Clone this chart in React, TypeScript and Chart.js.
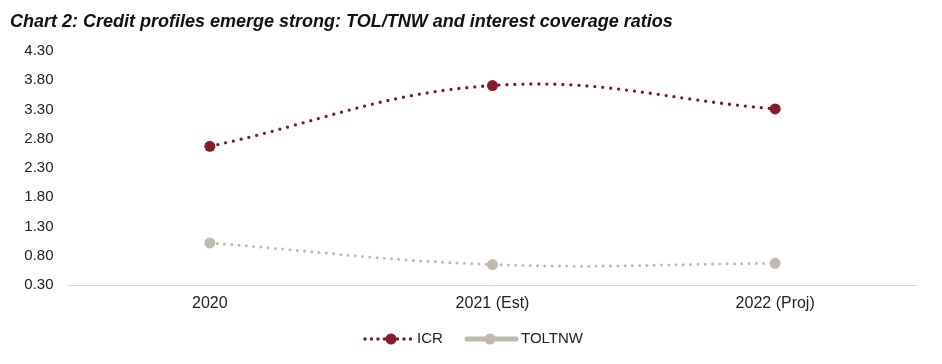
import React, { useEffect, useRef } from "react";
import { Chart, registerables } from "chart.js";

Chart.register(...registerables);

const TITLE = "Chart 2: Credit profiles emerge strong: TOL/TNW and interest coverage ratios";
const CATEGORIES = ["2020", "2021 (Est)", "2022 (Proj)"];
const ICR = [2.67, 3.71, 3.31];
const TOLTNW = [1.02, 0.65, 0.67];
const SERIES_NAMES = ["ICR", "TOLTNW"];
const Y_MIN = 0.3;
const Y_MAX = 4.3;
const Y_STEP = 0.5;

const ICR_COLOR = "#731D2A";
const ICR_POINT = "#861B2B";
const TOL_COLOR = "#C0B9AF";
const FONT = "'Liberation Sans', Arial, sans-serif";

const titlePlugin = {
  id: "customTitle",
  afterDraw(chart: any) {
    const ctx = chart.ctx;
    ctx.save();
    ctx.font = `italic bold 18px ${FONT}`;
    ctx.fillStyle = "#111111";
    ctx.textBaseline = "alphabetic";
    ctx.textAlign = "left";
    ctx.fillText(TITLE, 10, 27);
    ctx.restore();
  },
};

const legendPlugin = {
  id: "customLegend",
  afterDraw(chart: any) {
    const ctx = chart.ctx;
    const cx = chart.width / 2;
    const y = 339;
    ctx.save();
    // ICR icon: dotted line with marker
    ctx.strokeStyle = ICR_COLOR;
    ctx.fillStyle = ICR_POINT;
    ctx.lineCap = "round";
    ctx.lineWidth = 3.5;
    ctx.setLineDash([0, 6.5]);
    ctx.beginPath();
    ctx.moveTo(cx - 106, y);
    ctx.lineTo(cx - 59, y);
    ctx.stroke();
    ctx.setLineDash([]);
    ctx.beginPath();
    ctx.arc(cx - 80, y, 5.5, 0, Math.PI * 2);
    ctx.fill();
    // TOLTNW icon: solid line with marker
    ctx.strokeStyle = TOL_COLOR;
    ctx.fillStyle = TOL_COLOR;
    ctx.lineWidth = 5;
    ctx.lineCap = "round";
    ctx.beginPath();
    ctx.moveTo(cx - 4, y);
    ctx.lineTo(cx + 45, y);
    ctx.stroke();
    ctx.beginPath();
    ctx.arc(cx + 19, y, 5.5, 0, Math.PI * 2);
    ctx.fill();
    // texts
    ctx.font = `15px ${FONT}`;
    ctx.fillStyle = "#222222";
    ctx.textBaseline = "middle";
    ctx.textAlign = "left";
    ctx.fillText(SERIES_NAMES[0], cx - 54, y);
    ctx.fillText(SERIES_NAMES[1], cx + 50, y);
    ctx.restore();
  },
};

export default function App() {
  const ref = useRef<HTMLCanvasElement | null>(null);
  useEffect(() => {
    document.body.style.margin = "0";
    const chart = new Chart(ref.current!, {
      type: "line",
      data: {
        labels: CATEGORIES,
        datasets: [
          {
            label: SERIES_NAMES[0],
            data: ICR,
            borderColor: ICR_COLOR,
            backgroundColor: ICR_POINT,
            pointBackgroundColor: ICR_POINT,
            pointBorderColor: ICR_POINT,
            pointRadius: 5.5,
            pointBorderWidth: 0,
            borderWidth: 3.3,
            borderDash: [0, 8],
            borderCapStyle: "round",
            tension: 0.4,
          },
          {
            label: SERIES_NAMES[1],
            data: TOLTNW,
            borderColor: TOL_COLOR,
            backgroundColor: TOL_COLOR,
            pointBackgroundColor: TOL_COLOR,
            pointBorderColor: TOL_COLOR,
            pointRadius: 5.5,
            pointBorderWidth: 0,
            borderWidth: 3,
            borderDash: [0, 7.3],
            borderCapStyle: "round",
            tension: 0.4,
          },
        ],
      },
      options: {
        responsive: false,
        animation: false,
        layout: { padding: { top: 51, right: 25.5, left: 0, bottom: 0 } },
        plugins: {
          title: { display: false },
          tooltip: { enabled: false },
          legend: { display: false },
        },
        scales: {
          x: {
            offset: true,
            grid: { display: false, drawTicks: false },
            border: { display: true, color: "#D9D9D9", width: 1 },
            afterFit: (s: any) => {
              s.height = 79;
            },
            ticks: {
              color: "#222222",
              padding: 9,
              font: { family: FONT, size: 16 },
            },
          },
          y: {
            min: Y_MIN,
            max: Y_MAX,
            grid: { display: false, drawTicks: false },
            border: { display: false },
            afterFit: (s: any) => {
              s.width = 68.5;
            },
            ticks: {
              stepSize: Y_STEP,
              color: "#222222",
              padding: 15,
              font: { family: FONT, size: 15 },
              callback: (v: any) => Number(v).toFixed(2),
            },
          },
        },
      },
      plugins: [titlePlugin, legendPlugin],
    });
    return () => chart.destroy();
  }, []);
  return (
    <div style={{ width: 942, height: 364, background: "#fff" }}>
      <canvas ref={ref} width={942} height={364} />
    </div>
  );
}
